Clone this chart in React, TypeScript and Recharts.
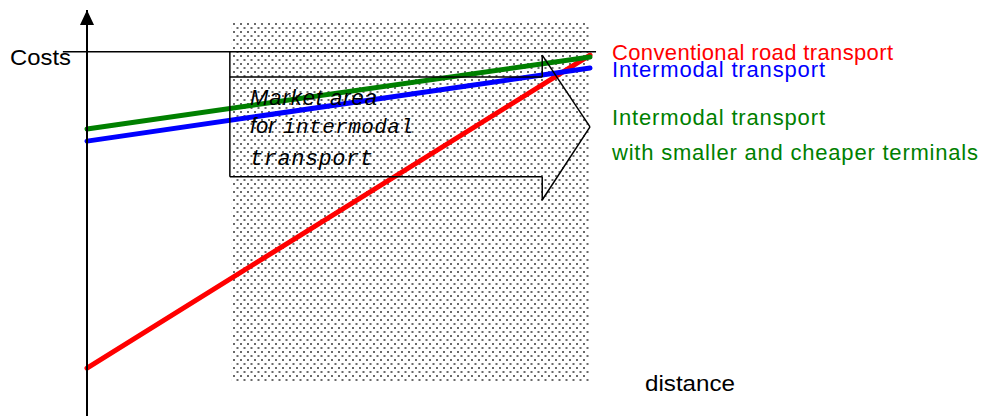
import { LineChart, Line, XAxis, YAxis, ReferenceArea, ReferenceLine } from 'recharts';

// distance (0 = origin, 100 = right edge of market area)
const distance = [0, 100];
// cost values at both ends of each line
const roadCost = [11.8, 88.9];
const intermodalCost = [67.7, 85.7];
const cheaperTerminalCost = [70.7, 88.4];

// market area box + arrow outline (data coords)
const marketX = [28.8, 100];
const marketY = [8.4, 97];
const costsLevel = 89.7;
const arrowX = [28.4, 90.5, 100];
const arrowY = { top: 83.5, headTop: 88.9, tip: 71.2, headBottom: 53.2, bottom: 58.9 };

const data = distance.map((d, i) => ({
  d,
  road: roadCost[i],
  intermodal: intermodalCost[i],
  cheaper: cheaperTerminalCost[i],
}));

const arrowPts = [
  { x: arrowX[0], y: arrowY.top },
  { x: arrowX[1], y: arrowY.top },
  { x: arrowX[1], y: arrowY.headTop },
  { x: arrowX[2], y: arrowY.tip },
  { x: arrowX[1], y: arrowY.headBottom },
  { x: arrowX[1], y: arrowY.bottom },
  { x: arrowX[0], y: arrowY.bottom },
  { x: arrowX[0], y: arrowY.top },
];

const SANS = '"Liberation Sans", Arial, sans-serif';
const MONO = '"Liberation Mono", "Courier New", monospace';

export default function App() {
  return (
    <div style={{ position: 'absolute', left: 0, top: 0, width: 984, height: 416, background: '#fff' }}>
      <LineChart width={984} height={416} data={data} margin={{ top: 10, right: 394, left: 87, bottom: 0 }}>
        <defs>
          <pattern id="dots" width="7" height="8" patternUnits="userSpaceOnUse" x="232" y="22">
            <rect x="1" y="1" width="2" height="2" fill="#6a6a6a" />
            <rect x="4.5" y="5" width="2" height="2" fill="#6a6a6a" />
          </pattern>
          <marker id="axisArrow" markerUnits="userSpaceOnUse" markerWidth="16" markerHeight="14" refX="15" refY="7" orient="auto">
            <path d="M0,0 L15,7 L0,14 z" fill="#000" />
          </marker>
        </defs>
        <XAxis type="number" dataKey="d" domain={[0, 100]} hide />
        <YAxis type="number" domain={[0, 100]} hide />
        <ReferenceArea x1={marketX[0]} x2={marketX[1]} y1={marketY[0]} y2={marketY[1]} fill="url(#dots)" fillOpacity={1} stroke="none" ifOverflow="visible" />
        <Line dataKey="road" stroke="#ff0000" strokeWidth={5} dot={false} strokeLinecap="round" isAnimationActive={false} />
        <Line dataKey="cheaper" stroke="#008000" strokeWidth={5} dot={false} strokeLinecap="round" isAnimationActive={false} />
        <Line dataKey="intermodal" stroke="#0000ff" strokeWidth={5} dot={false} strokeLinecap="round" isAnimationActive={false} />
        <ReferenceLine segment={[{ x: 0, y: 0 }, { x: 0, y: 100 }]} stroke="#000" strokeWidth={2} markerEnd="url(#axisArrow)" ifOverflow="visible" />
        <ReferenceLine segment={[{ x: -4.8, y: costsLevel }, { x: 101.2, y: costsLevel }]} stroke="#000" strokeWidth={1.5} ifOverflow="visible" />
        <ReferenceLine segment={[{ x: arrowX[0], y: costsLevel }, { x: arrowX[0], y: arrowY.top }]} stroke="#000" strokeWidth={1.5} ifOverflow="visible" />
        {arrowPts.slice(1).map((p, i) => (
          <ReferenceLine key={i} segment={[arrowPts[i], p]} stroke="#000" strokeWidth={1.5} ifOverflow="visible" />
        ))}
      </LineChart>
      <svg width={984} height={416} style={{ position: 'absolute', left: 0, top: 0, pointerEvents: 'none' }}>
        <text x={10} y={65} fontFamily={SANS} fontSize={22} textLength={61} lengthAdjust="spacingAndGlyphs" fill="#000">Costs</text>
        <text x={645} y={391} fontFamily={SANS} fontSize={22} textLength={90} lengthAdjust="spacingAndGlyphs" fill="#000">distance</text>
        <text x={612} y={60} fontFamily={SANS} fontSize={22} textLength={281} fill="#ff0000">Conventional road transport</text>
        <text x={612} y={77} fontFamily={SANS} fontSize={22} textLength={213} fill="#0000ff">Intermodal transport</text>
        <text x={612} y={125} fontFamily={SANS} fontSize={22} textLength={213} fill="#008000">Intermodal transport</text>
        <text x={612} y={160} fontFamily={SANS} fontSize={22} textLength={366} fill="#008000">with smaller and cheaper terminals</text>
        <text x={250} y={105} fontFamily={SANS} fontSize={22} fontStyle="italic" textLength={127} fill="#000">Market area</text>
        <text x={250} y={133} fontSize={22} fontStyle="italic" fill="#000">
          <tspan fontFamily={SANS}>for</tspan>
          <tspan x={283} fontFamily={MONO} fontSize={21} textLength={130}>intermodal</tspan>
        </text>
        <text x={250} y={165} fontFamily={MONO} fontSize={22} fontStyle="italic" textLength={123} fill="#000">transport</text>
      </svg>
    </div>
  );
}
